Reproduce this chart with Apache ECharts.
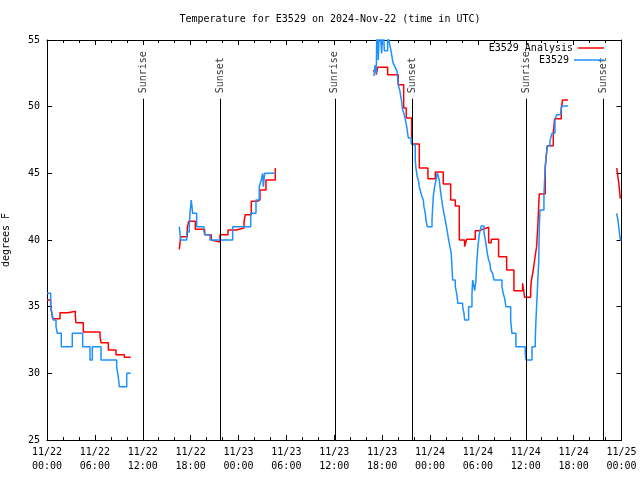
<!DOCTYPE html>
<html>
<head>
<meta charset="utf-8">
<script src="https://cdn.jsdelivr.net/npm/echarts@6/dist/echarts.min.js"></script>
<style>html,body{margin:0;padding:0;background:#fff}#c{width:640px;height:480px}</style>
</head>
<body>
<div id="c"></div>
<script>
// hours since 2024-11-22 00:00 UTC; a null temperature marks a gap in the record
const analysisHours = [0,0.46,0.71,1.63,2.63,3.55,3.63,4.55,6.64,6.77,7.69,8.65,9.69,10.49, 10.49,
  16.58,16.75,17.58,17.75,18.59,19.76,20.59,20.76,21.68,22.68,23.77,24.69,24.85,25.6,26.35,26.69,27.44,28.61, 28.61,
  40.85,41.27,41.44,42.69,44.02,44.7,45.03,45.7,46.66,47.74,48.66,49.66,50.59,51.17,51.67,52.34,52.59,53.67,54.17,54.6,55.35,55.68,56.6,57.61,58.52,59.61,59.86,60.61,60.69,60.94,61.11,61.36,61.53,61.69,62.44,62.69,63.45,63.62,64.45,64.62,65.29, 65.29,
  71.4,71.65,71.85,71.9];
const analysisTemps = [35.5,35.0,34.1,34.55,34.65,34.25,33.8,33.1,32.75,32.3,31.75,31.4,31.2,31.2, null,
  39.3,40.25,40.9,41.4,40.8,40.4,40.0,39.85,40.4,40.75,40.9,41.4,41.9,42.9,43.0,43.75,44.5,45.4, null,
  52.7,52.4,52.95,52.4,51.65,49.9,49.15,47.2,45.4,44.6,45.1,44.2,43.0,42.55,40.0,39.5,40.05,40.7,40.8,40.95,39.8,40.05,38.75,37.75,36.2,36.75,35.7,36.2,36.9,37.75,38.5,39.5,41.25,43.45,45.4,47.07,48.0,49.1,49.9,50.5,50.5, null,
  45.4,44.3,43.1,43.1];

const obsHours = [0,0.46,0.63,0.79,1.13,1.29,1.79,3.17,4.47,5.39,5.68,6.77,8.73,8.86,8.98,9.06,9.99,10.49, 10.49,
  16.58,16.75,17.51,17.83,17.92,18.08,18.26,18.76,19.67,19.84,20.43,23.27,25.53,26.19,26.6,26.85,27.03,27.11,27.28,28.61, 28.61,
  40.98,41.1,41.27,41.35,41.52,41.69,41.94,42.14,42.27,42.69,42.86,43.11,43.36,43.61,43.86,43.95,44.02,44.24,44.36,44.45,44.52,44.77,44.95,45.11,45.28,45.65,45.83,46.15,46.24,46.4,46.58,46.65,46.83,46.99,47.16,47.24,47.41,47.49,47.66,48.25,48.41,48.58,48.75,48.91,49.16,49.25,49.41,49.59,49.75,49.91,50.09,50.34,50.5,50.66,50.75,50.84,51.17,51.34,51.5,52.09,52.26,52.34,52.84,53.26,53.35,53.6,53.76,53.85,54.01,54.17,54.42,54.76,55.01,55.18,55.35,55.51,55.6,55.85,56.02,57.02,57.18,57.36,57.52,58.11,58.27,58.77,59.94,60.03,60.78,61.19,61.28,61.44,61.53,61.62,61.69,61.78,62.28,62.44,62.69,63.03,63.28,63.66,63.87,64.37,64.54,65.29, 65.29,
  71.4,71.55,71.65,71.85,72];
const obsTemps = [36.0,35.0,34.5,34.0,33.5,33.0,32.0,33.0,32.0,31.0,32.0,31.0,30.5,30.0,29.5,29.0,30.0,30.0, null,
  41.0,40.0,40.6,41.0,42.0,43.0,42.0,41.0,40.6,40.4,40.0,41.0,42.0,43.0,44.0,44.5,45.0,44.0,45.0,45.0, null,
  52.3,53.1,52.5,56.5,53.5,56.5,54.0,56.5,54.2,56.5,54.9,54.2,53.3,53.0,52.65,52.15,51.65,51.15,50.65,50.4,49.9,49.4,48.9,48.4,47.65,47.25,47.1,46.0,45.4,44.75,44.4,44.0,43.6,43.25,43.0,42.5,42.0,41.5,41.0,41.5,43.25,44.0,44.5,45.05,44.5,44.0,43.25,42.5,42.0,41.5,40.9,40.0,39.5,39.0,38.0,37.0,36.5,36.0,35.25,35.0,34.5,34.0,35.0,36.0,37.0,36.2,37.0,38.25,39.5,40.4,41.05,40.6,39.75,39.0,38.5,38.25,37.75,37.5,37.0,36.5,36.0,35.6,35.0,34.0,33.0,32.0,31.45,31.0,32.0,32.5,34.0,36.0,37.25,38.25,40.75,42.25,43.4,45.5,47.05,47.4,48.0,49.0,49.4,49.6,50.05,50.05, null,
  42.0,41.5,41.0,40.0,40.0];

const sunEventHours = [12.05, 21.77, 36.08, 45.75, 60.1, 69.75];
const sunEventNames = ['Sunrise','Sunset','Sunrise','Sunset','Sunrise','Sunset'];
const xTickLabels = ['11/22\n00:00','11/22\n06:00','11/22\n12:00','11/22\n18:00','11/23\n00:00','11/23\n06:00','11/23\n12:00','11/23\n18:00','11/24\n00:00','11/24\n06:00','11/24\n12:00','11/24\n18:00','11/25\n00:00'];

const FONT = 'DejaVu Sans Mono';
const pair = (hs, ts) => hs.map((h, i) => ts[i] === null ? [null, null] : [h, ts[i]]);

const chart = echarts.init(document.getElementById('c'), null, {renderer: 'canvas'});
const axisCommon = {
  type: 'value', min: 0, max: 72, interval: 6,
  axisLine: {show: true, onZero: false, lineStyle: {color: '#000', width: 1}},
  axisTick: {show: true, inside: true, length: 5, lineStyle: {color: '#000'}},
  minorTick: {show: true, splitNumber: 3, length: 3, lineStyle: {color: '#000'}},
  splitLine: {show: false}
};
const yCommon = {
  type: 'value', min: 25, max: 55, interval: 5,
  axisLine: {show: true, onZero: false, lineStyle: {color: '#000', width: 1}},
  axisTick: {show: true, inside: true, length: 5, lineStyle: {color: '#000'}},
  splitLine: {show: false}
};
chart.setOption({
  animation: false,
  backgroundColor: '#fff',
  title: {
    text: 'Temperature for E3529 on 2024-Nov-22 (time in UTC)',
    left: 330, top: 14, textAlign: 'center', padding: 0,
    textStyle: {fontFamily: FONT, fontSize: 10, fontWeight: 'normal', color: '#000'}
  },
  legend: [
    {data: ['E3529 Analysis'], right: 36, top: 43, align: 'right', padding: 0, itemWidth: 26, itemHeight: 1.5, icon: 'rect',
     textStyle: {fontFamily: FONT, fontSize: 10, color: '#000'}},
    {data: ['E3529'], right: 36, top: 55, align: 'right', padding: 0, itemWidth: 30, itemHeight: 1.5, icon: 'rect',
     textStyle: {fontFamily: FONT, fontSize: 10, color: '#000'}}
  ],
  grid: {left: 47, right: 18.5, top: 40, bottom: 40, containLabel: false, outerBoundsMode: 'none'},
  xAxis: [
    Object.assign({}, axisCommon, {position: 'bottom',
      axisLabel: {show: true, margin: 5, lineHeight: 14, fontFamily: FONT, fontSize: 10, color: '#000',
        formatter: v => xTickLabels[Math.round(v / 6)] || ''}}),
    Object.assign({}, axisCommon, {position: 'top', axisLabel: {show: false}})
  ],
  yAxis: [
    Object.assign({}, yCommon, {position: 'left', name: 'degrees F', nameLocation: 'middle', nameGap: 36, nameRotate: 90,
      nameTextStyle: {fontFamily: FONT, fontSize: 10, color: '#000'},
      axisLabel: {margin: 7, fontFamily: FONT, fontSize: 10, color: '#000'}}),
    Object.assign({}, yCommon, {position: 'right', axisLabel: {show: false}})
  ],
  series: [
    {
      name: 'sun', type: 'scatter', xAxisIndex: 0, yAxisIndex: 0,
      symbolSize: 1, itemStyle: {color: 'rgba(0,0,0,0)'}, silent: true,
      data: sunEventHours.map((h, i) => [h, 51, sunEventNames[i]]),
      label: {show: true, position: 'inside', rotate: 90, align: 'left', verticalAlign: 'middle',
        formatter: p => p.value[2], fontFamily: FONT, fontSize: 10, color: '#000', textBorderWidth: 0},
      labelLayout: {hideOverlap: false},
      markLine: {
        silent: true, symbol: ['none', 'none'], animation: false,
        lineStyle: {color: '#000', width: 1, type: 'solid'},
        label: {show: false},
        data: sunEventHours.map(h => [{coord: [h, 25]}, {coord: [h, 50.6]}])
      }
    },
    {
      name: 'E3529 Analysis', type: 'line', step: 'end', showSymbol: false, symbol: 'none',
      connectNulls: false, color: '#ff0000', lineStyle: {color: '#ff0000', width: 1.5},
      data: pair(analysisHours, analysisTemps)
    },
    {
      name: 'E3529', type: 'line', step: 'end', showSymbol: false, symbol: 'none',
      connectNulls: false, color: '#1e90ff', lineStyle: {color: '#1e90ff', width: 1.5},
      data: pair(obsHours, obsTemps)
    }
  ]
});
</script>
</body>
</html>
